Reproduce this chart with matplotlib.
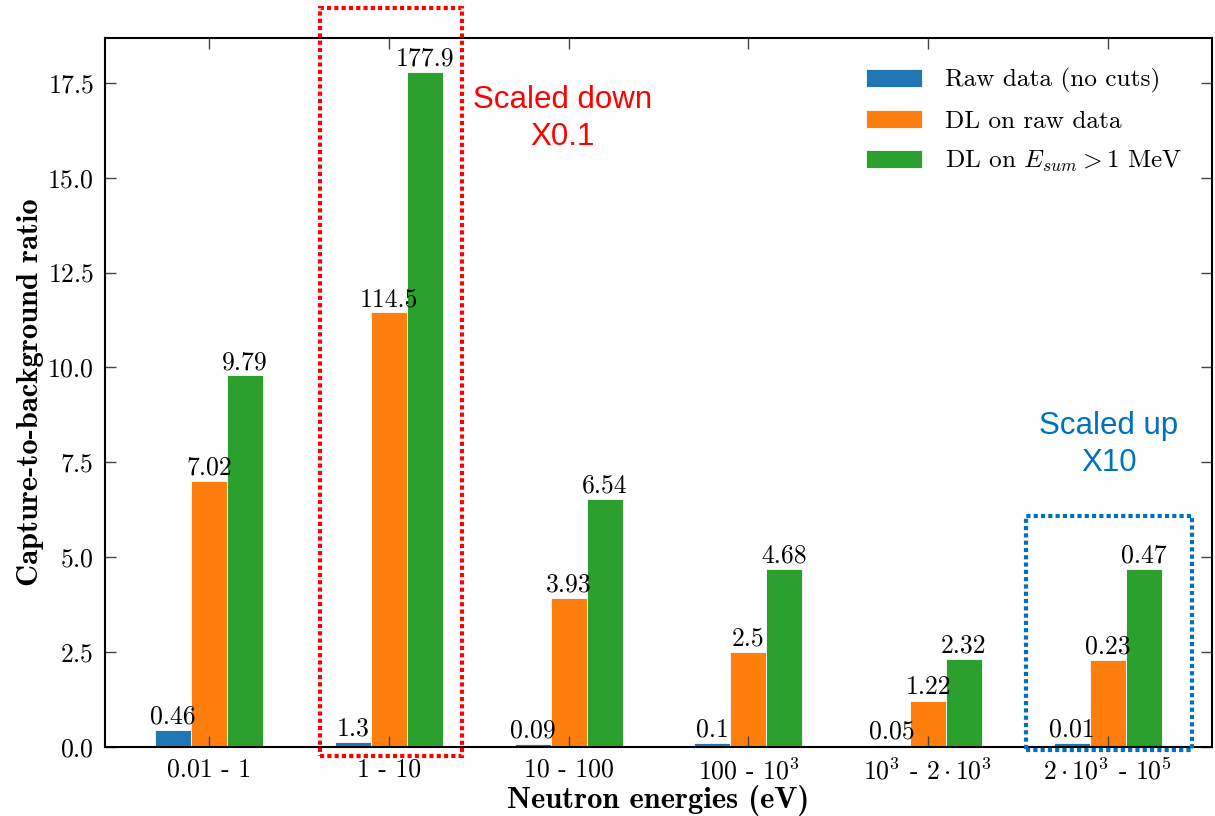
import matplotlib
matplotlib.use('Agg')
import matplotlib.pyplot as plt
from matplotlib.patches import Rectangle
import numpy as np

plt.rcParams['font.family'] = 'cmr10'
plt.rcParams['mathtext.fontset'] = 'cm'
plt.rcParams['axes.formatter.use_mathtext'] = True

energy_bins = ['0.01 - 1', '1 - 10', '10 - 100', '100 - $10^3$',
               r'$10^3$ - $2\cdot10^3$', r'$2\cdot10^3$ - $10^5$']
raw_ratio = [0.46, 1.3, 0.09, 0.1, 0.05, 0.01]
dl_raw_ratio = [7.02, 114.5, 3.93, 2.5, 1.22, 0.23]
dl_esum_ratio = [9.79, 177.9, 6.54, 4.68, 2.32, 0.47]
# display factor per energy bin (bin 1-10 shrunk, last bin enlarged)
display_scale = [1, 0.1, 1, 1, 1, 10]

series_names = ['Raw data (no cuts)', 'DL on raw data', r'DL on $E_{sum} > 1$ MeV']
series_colors = ['#1f77b4', '#ff7f0e', '#2ca02c']

x = np.arange(len(energy_bins))
w = 0.2
scale = np.array(display_scale, dtype=float)

fig = plt.figure(figsize=(12.15, 8.16), dpi=100)
ax = fig.add_axes([0.0864, 0.0846, 0.9111, 0.8688])

for i, (vals, name, col) in enumerate(zip([raw_ratio, dl_raw_ratio, dl_esum_ratio],
                                           series_names, series_colors)):
    heights = np.array(vals) * scale
    bars = ax.bar(x + (i - 1) * w, heights, w, color=col, label=name,
                  edgecolor='white', linewidth=0.6)
    ax.bar_label(bars, labels=[f'{v:g}' for v in vals], padding=1, fontsize=18.5)

ax.set_xticks(x)
ax.set_xticklabels(energy_bins)
ax.tick_params(axis='both', direction='in', top=True, right=True, length=8,
               width=1, color='#444444', labelsize=18.5, pad=8)
for sp in ax.spines.values():
    sp.set_linewidth(1.5)

ax.set_xlabel('Neutron energies (eV)', fontfamily='cmb10', fontsize=22, labelpad=0)
ax.set_ylabel('Capture-to-background ratio', fontfamily='cmb10', fontsize=22, labelpad=2)

ax.legend(loc='upper right', frameon=False, fontsize=18.2, handlelength=2.2,
          handleheight=0.7, labelspacing=0.65, handletextpad=0.9,
          borderaxespad=0.8)

# dotted frames around the rescaled bins
red_box = Rectangle((0.617, -0.24), 0.789, 19.72, fill=False, edgecolor='#ff0000',
                    linewidth=3, linestyle=(0, (1, 0.75)), clip_on=False, zorder=5)
blue_box = Rectangle((4.544, -0.08), 0.923, 6.16, fill=False, edgecolor='#0070c0',
                     linewidth=3, linestyle=(0, (1, 0.75)), clip_on=False, zorder=5)
ax.add_patch(red_box)
ax.add_patch(blue_box)

ax.text(1.964, 16.55, 'Scaled down\nX0.1', color='#ff0000', fontfamily='Liberation Sans',
        fontsize=22.5, ha='center', va='center', linespacing=1.3)
ax.text(5.006, 7.96, 'Scaled up\nX10', color='#0070c0', fontfamily='Liberation Sans',
        fontsize=22.5, ha='center', va='center', linespacing=1.3)

fig.savefig('out.png', dpi=100)
